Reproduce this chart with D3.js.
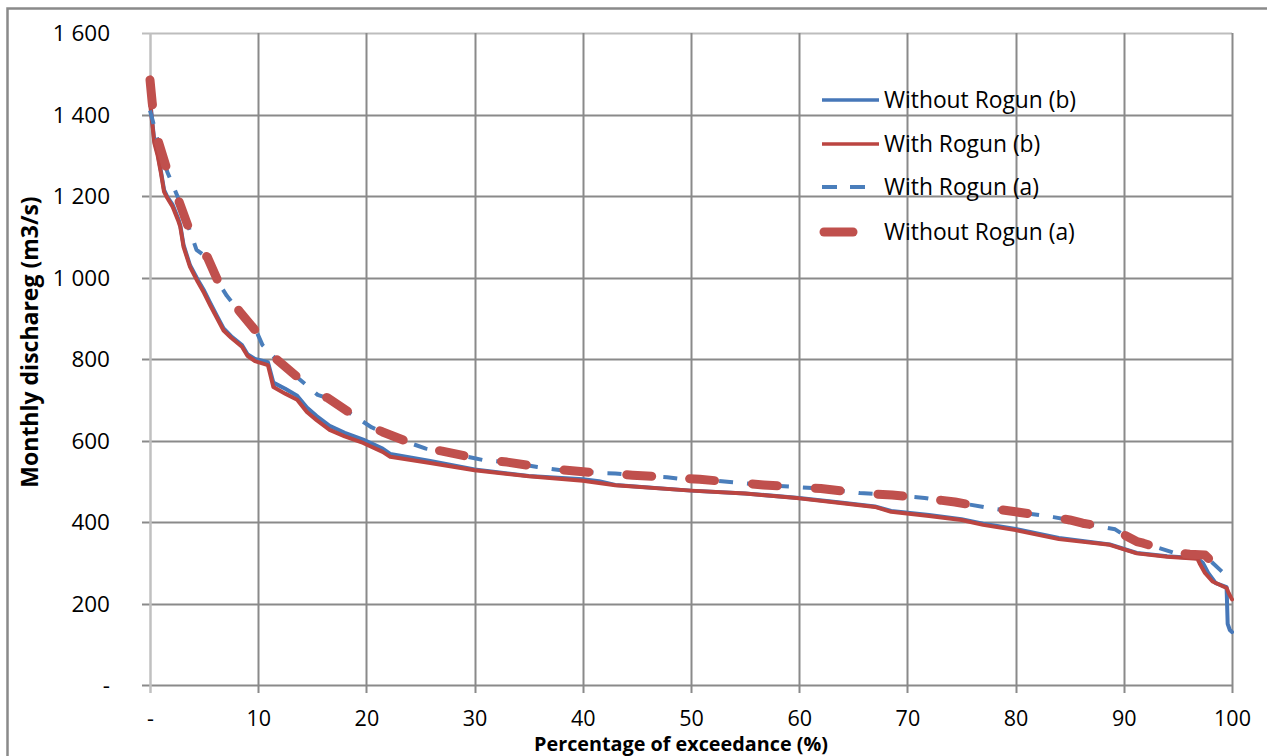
<!DOCTYPE html>
<html>
<head>
<meta charset="utf-8">
<script src="https://cdn.jsdelivr.net/npm/d3@7"></script>
<style>
  html, body { margin: 0; padding: 0; background: #fff; }
  svg { display: block; }
  text { font-family: "Open Sans", "Noto Sans", sans-serif; fill: #000; }
</style>
</head>
<body>
<svg id="chart" width="1267" height="756"></svg>
<script>
// ---- Data (percentage of exceedance, monthly discharge m3/s) ----
const withoutRogunB_x = [0, 0.2, 0.4, 0.7, 1.0, 1.3, 1.6, 2.1, 2.6, 2.8, 3.1, 3.7, 4.4, 5.0, 5.6, 6.2, 6.8, 7.5, 8.5, 9.0, 9.7, 10.9, 11.4, 12.5, 13.6, 14.5, 15.4, 16.6, 18, 19.7, 21.5, 22.2, 25.9, 30, 35, 40, 41.5, 43, 50, 55, 60, 64, 67, 68.5, 72, 75, 77, 80, 84, 88.7, 91.2, 94, 96.8, 97.3, 97.8, 98.5, 99.5, 99.6, 99.8, 100];
const withoutRogunB_y = [1440, 1385, 1335, 1305, 1262, 1215, 1198, 1178, 1145, 1128, 1080, 1030, 995, 968, 936, 905, 875, 856, 834, 812, 800, 792, 742, 727, 710, 681, 660, 636, 619, 602, 580, 567, 550, 529, 513, 505, 500, 491, 477, 470, 459, 447, 438, 427, 417, 407, 396, 383, 361, 345, 324, 316, 311, 300, 275, 250, 240, 150, 135, 130];

const withRogunB_x = [0, 0.2, 0.4, 0.7, 1.0, 1.3, 1.6, 2.1, 2.6, 2.8, 3.1, 3.7, 4.4, 5.0, 5.6, 6.2, 6.8, 7.5, 8.5, 9.0, 9.7, 10.9, 11.4, 12.5, 13.6, 14.5, 15.4, 16.6, 18, 19.7, 21.5, 22.2, 25.9, 30, 35, 40, 43, 50, 55, 60, 64, 67, 68.5, 72, 75, 77, 80, 84, 88.7, 91.2, 94, 96.8, 97.0, 97.5, 98.2, 99.5, 99.7, 100];
const withRogunB_y = [1430, 1380, 1330, 1300, 1258, 1210, 1195, 1173, 1140, 1124, 1075, 1026, 990, 962, 930, 900, 870, 852, 830, 808, 795, 785, 731, 715, 700, 670, 650, 626, 610, 594, 572, 560, 545, 527, 512, 501, 490, 477, 470, 458, 446, 437, 425, 415, 405, 393, 380, 358, 344, 323, 315, 310, 299, 275, 254, 238, 225, 210];

const withRogunA_x = [0, 0.4, 0.7, 1.6, 2.5, 3.5, 4.3, 5.3, 6.3, 7.1, 8.3, 9.9, 10.4, 11.7, 13.7, 15.5, 16.4, 18.7, 20.5, 21.5, 24, 25.5, 27, 29.9, 30.8, 33, 35.8, 38, 41.6, 43, 44.6, 47.8, 49, 50.8, 53.6, 56.7, 59.6, 62, 64.7, 65.6, 68.6, 71.6, 73.2, 74.4, 77.6, 80, 83.5, 85, 86.2, 89.2, 90, 91.2, 91.8, 94.7, 96.1, 97.5, 98, 99, 99.6, 100];
const withRogunA_y = [1410, 1370, 1337, 1259, 1202, 1129, 1068, 1048, 989, 955, 915, 864, 834, 798, 753, 712, 704, 663, 632, 621, 594, 580, 573, 557, 552, 547, 535, 527, 520, 519, 515, 510, 506, 505, 498, 491, 486, 482, 474, 471, 466, 459, 452, 449, 434, 425, 412, 405, 397, 382, 368, 351, 348, 324, 321, 319, 305, 280, 265, 258];

const withoutRogunA_x = [0, 0.2, 0.4, 0.7, 1.6, 2.5, 3.5, 4.3, 5.3, 6.3, 7.1, 8.3, 9.9, 10.4, 11.7, 13.7, 15.5, 16.4, 18.7, 20.5, 21.5, 24, 25.5, 27, 29.9, 30.8, 33, 35.8, 38, 41.6, 43, 44.6, 47.8, 49, 50.8, 53.6, 56.7, 59.6, 62, 64.7, 65.6, 68.6, 71.6, 73.2, 74.4, 77.6, 80, 83.5, 85, 86.2, 89.2, 90, 91.2, 91.8, 94.7, 96.1, 97.5, 98, 99, 99.6, 100];
const withoutRogunA_y = [1485, 1430, 1385, 1340, 1262, 1200, 1127, 1070, 1050, 990, 956, 916, 865, 835, 799, 754, 713, 705, 664, 633, 621, 595, 581, 574, 558, 553, 547, 536, 528, 520, 518, 515, 510, 507, 505, 498, 491, 486, 482, 474, 471, 466, 459, 453, 449, 434, 425, 412, 405, 397, 383, 369, 352, 348, 325, 321, 319, 306, 281, 266, 260];

const yTicks = [0, 200, 400, 600, 800, 1000, 1200, 1400, 1600];
const xTicks = [0, 10, 20, 30, 40, 50, 60, 70, 80, 90, 100];
const seriesNames = ["Without Rogun (b)", "With Rogun (b)", "With Rogun (a)", "Without Rogun (a)"];
const xTitle = "Percentage of exceedance (%)";
const yTitle = "Monthly dischareg (m3/s)";

// ---- Styles ----
const styles = [
  { color: "#4677b8", width: 4, dash: null, cap: "round" },
  { color: "#bb4541", width: 4, dash: null, cap: "round" },
  { color: "#4a7ebb", width: 4, dash: "14,14", cap: "butt" },
  { color: "#c0504d", width: 9, dash: "25,38", cap: "round" }
];

const svg = d3.select("#chart");
const x = d3.scaleLinear().domain([0, 100]).range([150, 1232]);
const y = d3.scaleLinear().domain([0, 1600]).range([685, 33]);

// outer frame
svg.append("rect").attr("x", 7.5).attr("y", 8.5).attr("width", 1300).attr("height", 800)
  .attr("fill", "none").attr("stroke", "#8a8a8a").attr("stroke-width", 2.5);

const fmt = d => d === 0 ? "-" : d3.format(",")(d).replace(/,/g, " ");

// y axis labels
const yAxis = d3.axisLeft(y).tickValues(yTicks).tickSize(0).tickFormat(fmt).tickPadding(0);
const gy = svg.append("g").attr("transform", "translate(110,0)").call(yAxis);
gy.select(".domain").remove();
gy.selectAll("text").attr("x", 0).attr("dy", "0.35em").style("font-size", "22.5px").style("font-family", "'Open Sans', sans-serif");

// horizontal gridlines (with tick marks)
svg.append("g").selectAll("line").data(yTicks).join("line")
  .attr("x1", 142).attr("x2", 1232)
  .attr("y1", d => Math.round(y(d)) + 0.5).attr("y2", d => Math.round(y(d)) + 0.5)
  .attr("stroke", d => d === 1600 ? "#bdbdbd" : "#8a8a8a").attr("stroke-width", 2);

// x axis labels
const xAxis = d3.axisBottom(x).tickValues(xTicks).tickSize(0).tickFormat(fmt).tickPadding(0);
const gx = svg.append("g").attr("transform", "translate(0,726)").call(xAxis);
gx.select(".domain").remove();
gx.selectAll("text").attr("y", 0).attr("dy", "0").style("font-size", "21.5px").style("font-family", "'Open Sans', sans-serif");

// vertical gridlines
svg.append("g").selectAll("line").data(xTicks).join("line")
  .attr("x1", d => Math.round(x(d)) + 0.5).attr("x2", d => Math.round(x(d)) + 0.5)
  .attr("y1", 33).attr("y2", 693)
  .attr("stroke", d => d === 0 ? "#c0c0c0" : "#8a8a8a").attr("stroke-width", d => d === 0 ? 2.5 : 2);

// series
const series = [
  { name: seriesNames[0], xs: withoutRogunB_x, ys: withoutRogunB_y },
  { name: seriesNames[1], xs: withRogunB_x, ys: withRogunB_y },
  { name: seriesNames[2], xs: withRogunA_x, ys: withRogunA_y },
  { name: seriesNames[3], xs: withoutRogunA_x, ys: withoutRogunA_y }
];
const line = d3.line().x(d => x(d[0])).y(d => y(d[1])).curve(d3.curveLinear);
series.forEach((s, i) => {
  const pts = s.xs.map((v, j) => [v, s.ys[j]]);
  const st = styles[i];
  svg.append("path").datum(pts).attr("d", line)
    .attr("fill", "none").attr("stroke", st.color).attr("stroke-width", st.width)
    .attr("stroke-linecap", st.cap).attr("stroke-linejoin", "round")
    .attr("stroke-dasharray", st.dash);
});

// legend
const legendY = [100, 144, 187, 232];
const lg = svg.append("g");
series.forEach((s, i) => {
  const st = styles[i];
  const yy = legendY[i];
  if (i === 3) {
    lg.append("line").attr("x1", 824).attr("x2", 853).attr("y1", yy).attr("y2", yy)
      .attr("stroke", st.color).attr("stroke-width", st.width).attr("stroke-linecap", "round");
  } else {
    lg.append("line").attr("x1", 822).attr("x2", i === 2 ? 866 : 879).attr("y1", yy).attr("y2", yy)
      .attr("stroke", st.color).attr("stroke-width", i === 2 ? 4 : 3.5)
      .attr("stroke-dasharray", i === 2 ? "15,13" : null);
  }
  lg.append("text").attr("x", 884).attr("y", yy).attr("dy", "0.36em")
    .style("font-size", "22.8px").text(s.name);
});

// axis titles
svg.append("text").attr("x", 681).attr("y", 751).attr("text-anchor", "middle")
  .style("font-size", "19.8px").style("font-weight", "bold").text(xTitle);
svg.append("text").attr("transform", "translate(38,342) rotate(-90)").attr("text-anchor", "middle")
  .style("font-size", "23px").style("font-weight", "bold").text(yTitle);
</script>
</body>
</html>
